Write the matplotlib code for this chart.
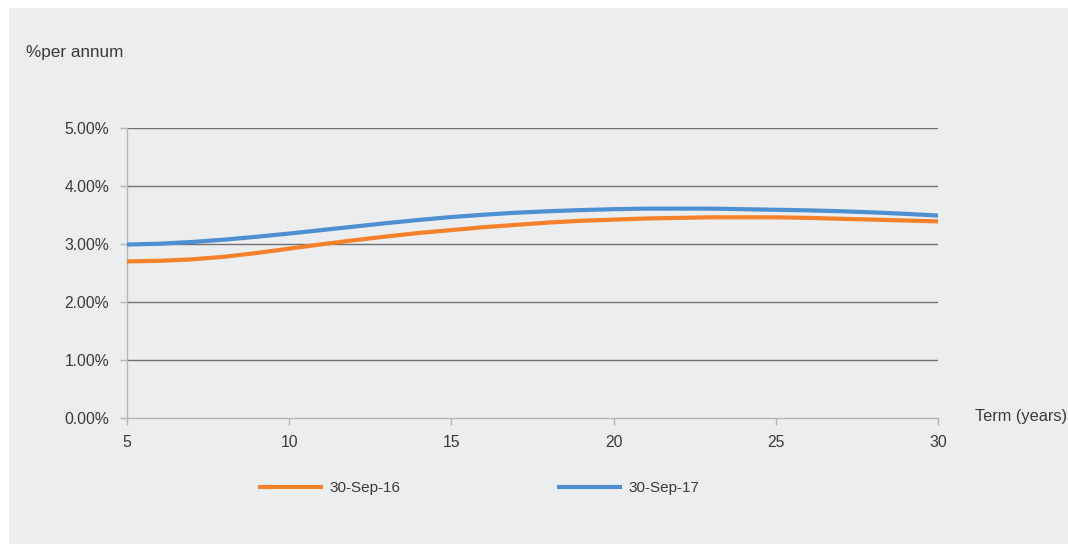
import matplotlib
matplotlib.use("Agg")
import matplotlib.pyplot as plt
from matplotlib.patches import Rectangle
from matplotlib.ticker import FuncFormatter

# Term structure, % per annum
terms = list(range(5, 31))
yield_sep16 = [2.70, 2.71, 2.735, 2.78, 2.845, 2.92, 2.995, 3.065, 3.13, 3.19,
               3.24, 3.29, 3.33, 3.37, 3.40, 3.42, 3.44, 3.45, 3.46, 3.46,
               3.46, 3.45, 3.435, 3.42, 3.405, 3.39]
yield_sep17 = [2.99, 3.005, 3.035, 3.075, 3.125, 3.18, 3.24, 3.30, 3.36, 3.415,
               3.465, 3.505, 3.54, 3.565, 3.585, 3.60, 3.61, 3.61, 3.61, 3.60,
               3.59, 3.58, 3.565, 3.545, 3.52, 3.49]
series_labels = ["30-Sep-16", "30-Sep-17"]
x_ticks = [5, 10, 15, 20, 25, 30]
y_ticks = [0, 1, 2, 3, 4, 5]

BG = "#ecedef"
TEXT = "#3a3a3c"
ORANGE = "#f5822a"
BLUE = "#4e8fd1"

plt.rcParams["font.family"] = ["Liberation Sans", "DejaVu Sans"]

W, H = 1068, 544
fig = plt.figure(figsize=(W / 100, H / 100), dpi=100)
fig.patch.set_facecolor("white")
fig.patches.append(Rectangle((9 / W, 0), 1 - 9 / W, 1 - 8 / H,
                             transform=fig.transFigure, facecolor=BG,
                             edgecolor="none", zorder=-10))

ax = fig.add_axes([127 / W, 1 - 418 / H, (938 - 127) / W, (418 - 128) / H])
ax.patch.set_alpha(0)

ax.plot(terms, yield_sep16, color=ORANGE, lw=3.0, label=series_labels[0],
        solid_capstyle="butt", solid_joinstyle="round", zorder=3)
ax.plot(terms, yield_sep17, color=BLUE, lw=3.0, label=series_labels[1],
        solid_capstyle="butt", solid_joinstyle="round", zorder=3)

ax.set_xlim(5, 30)
ax.set_ylim(0, 5)
ax.set_xticks(x_ticks)
ax.set_yticks(y_ticks)
ax.yaxis.set_major_formatter(FuncFormatter(lambda v, _: f"{v:.2f}%"))

for v in y_ticks[1:]:
    ax.axhline(v, color="#6f7073", lw=1.0, zorder=1)

for side in ("top", "right"):
    ax.spines[side].set_visible(False)
for side in ("left", "bottom"):
    ax.spines[side].set_color("#b4b5b7")
    ax.spines[side].set_linewidth(1.0)

ax.tick_params(axis="both", colors="#b4b5b7", labelcolor=TEXT,
               labelsize=11.3, length=5, width=1.0, direction="out")
ax.tick_params(axis="y", pad=8)
ax.tick_params(axis="x", pad=7)

fig.text(26 / W, 1 - 53 / H, "%per annum", fontsize=12.3, color=TEXT,
         ha="left", va="center")
fig.text(975 / W, 1 - 417 / H, "Term (years)", fontsize=11.8, color=TEXT,
         ha="left", va="center")

fig.legend(loc="center left", bbox_to_anchor=(258 / W, 1 - 488 / H),
           ncol=2, frameon=False, fontsize=11, labelcolor=TEXT,
           handlelength=4.25, handletextpad=0.4, columnspacing=10.3,
           borderpad=0, borderaxespad=0)

fig.savefig("out.png", dpi=100, facecolor=fig.get_facecolor())
